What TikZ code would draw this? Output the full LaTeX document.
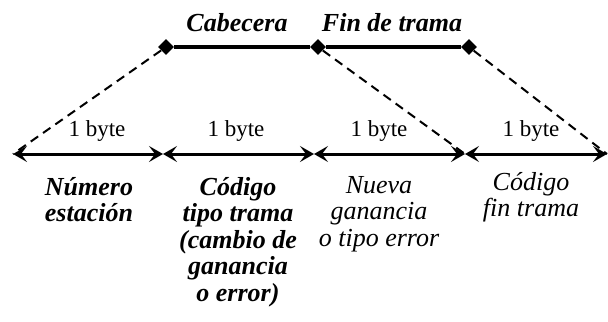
\documentclass[tikz,border=0pt]{standalone}
\usepackage{fontspec}
\setmainfont{Liberation Serif}
\usetikzlibrary{arrows.meta, shapes.geometric, positioning}
\tikzset{
  marca/.style={diamond, fill=black, inner sep=0pt, minimum width=8pt, minimum height=8pt},
  cabeza/.style={line width=1.8pt},
  guia/.style={dash pattern=on 4.5pt off 3pt, line width=1pt},
  campo/.style={line width=1.5pt, {Stealth[length=7pt,width=8pt,inset=3pt]}-{Stealth[length=7pt,width=8pt,inset=3pt]}},
  titulo/.style={font=\fontsize{13}{15}\selectfont\bfseries\itshape, inner sep=0pt, anchor=base},
  byte/.style={font=\fontsize{11.5}{13}\selectfont, inner sep=0pt, anchor=base},
  texto/.style={font=\fontsize{13}{13.25}\selectfont\itshape, align=center, inner sep=0pt, anchor=base},
  textonegro/.style={texto, font=\fontsize{13}{13.25}\selectfont\bfseries\itshape},
}
\begin{document}
\begin{tikzpicture}[x=0.5pt, y=-0.5pt]
	\useasboundingbox (0,0) rectangle (608,321);
	
	% cabecera y fin de trama
	\node[marca] (d1) at (166,47) {};
	\node[marca] (d2) at (318,47) {};
	\node[marca] (d3) at (469,47) {};
	\draw[cabeza] (d1) -- (d2) -- (d3);
	\node[titulo] (cab) at (237,31) {Cabecera};
	\node[titulo] (fin) at (392,31) {Fin de trama};
	
	% los cuatro bytes
	\coordinate (b0) at (13,154);
	\coordinate (b1) at (163,154);
	\coordinate (b2) at (314,154);
	\coordinate (b3) at (465,154);
	\coordinate (b4) at (607,154);
	\draw[guia] (d1) -- (b0);
	\draw[guia] (d2) -- (b3);
	\draw[guia] (d3) -- (b4);
	\draw[campo] (b0) -- (b1);
	\draw[campo] (b1) -- (b2);
	\draw[campo] (b2) -- (b3);
	\draw[campo] (b3) -- (b4);
	\node[byte] (by1) at (97,136) {1 byte};
	\node[byte] (by2) at (236,136) {1 byte};
	\node[byte] (by3) at (379,136) {1 byte};
	\node[byte] (by4) at (531,136) {1 byte};
	
	% contenido de cada byte (base = ultima linea)
	\node[textonegro] (num) at (89,221.5) {Número\\estación};
	\node[textonegro] (tipo) at (238,301) {Código\\tipo trama\\(cambio de\\ganancia\\o error)};
	\node[texto] (gan) at (379,246) {Nueva\\ganancia\\o tipo error};
	\node[texto] (cod) at (531,216.5) {Código\\fin trama};
	
\end{tikzpicture}
\end{document}
